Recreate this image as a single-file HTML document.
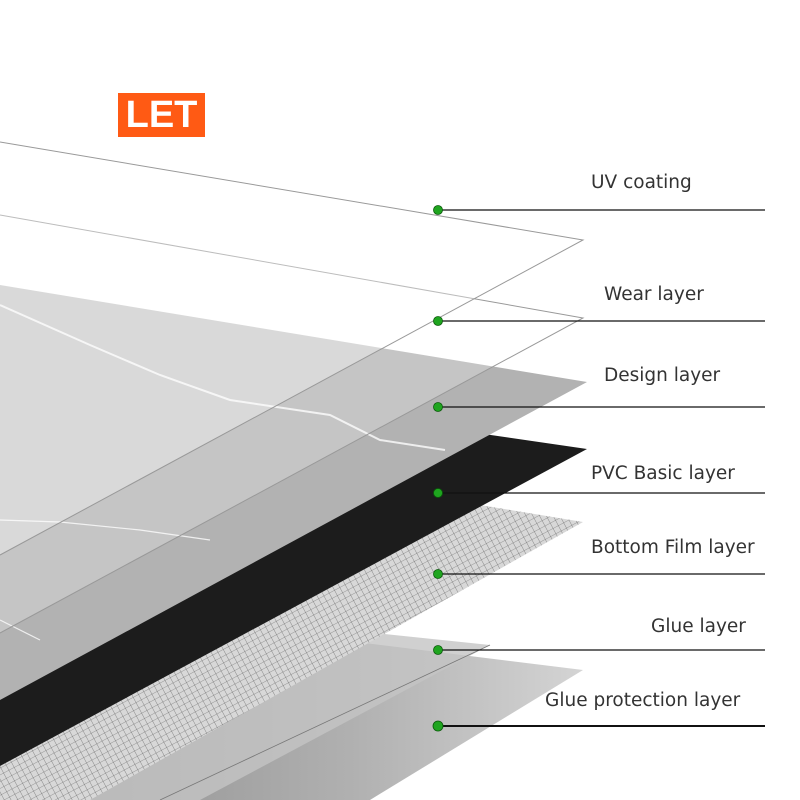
<!DOCTYPE html>
<html><head><meta charset="utf-8"><style>
html,body{margin:0;padding:0;background:#fff}
#c{position:relative;width:800px;height:800px;overflow:hidden;background:#fff}
.t{position:absolute;font-family:"DejaVu Sans","Liberation Sans",sans-serif;font-size:18.5px;color:#333;white-space:nowrap;line-height:20px}
</style></head><body><div id="c">
<svg width="800" height="800" style="position:absolute;left:0;top:0">
<defs>
<pattern id="mesh" width="6" height="6" patternUnits="userSpaceOnUse" patternTransform="rotate(-28)">
<path d="M0 0H6M0 0V6" stroke="#333" stroke-width="0.6"/>
</pattern>
<linearGradient id="gp" x1="0" y1="0" x2="1" y2="0">
<stop offset="0" stop-color="#8a8a8a"/><stop offset="0.6" stop-color="#b0b0b0"/><stop offset="1" stop-color="#d4d4d4"/>
</linearGradient>
</defs>
<polygon points="583,670 300,635 0,640 0,800 370,800" fill="url(#gp)"/>
<polygon points="490,645 250,620 0,640 0,800 200,800" fill="#c4c4c4" opacity="0.8"/>
<line x1="490" y1="645" x2="160" y2="800" stroke="#777" stroke-width="0.8"/>
<polygon points="583,522 480,505 0,640 0,800 90,800" fill="#d8d8d8"/>
<polygon points="583,522 480,505 0,640 0,800 90,800" fill="url(#mesh)" opacity="0.8"/>
<polygon points="587,449 470,432 0,560 0,766" fill="#1c1c1c"/>
<polygon points="0,285 587,382 0,700" fill="#b2b2b2"/>
<polyline points="0,305 90,345 160,375 230,400 330,415 380,440 445,450" fill="none" stroke="#eee" stroke-width="2"/>
<polyline points="0,520 60,522 140,530 210,540" fill="none" stroke="#eee" stroke-width="1.2"/>
<polyline points="0,620 40,640" fill="none" stroke="#eee" stroke-width="1.2"/>
<polygon points="0,215 583,318 0,633" fill="#fff" opacity="0.25"/>
<polyline points="0,215 583,318 0,633" fill="none" stroke="#999" stroke-width="1"/>
<polygon points="0,142 583,240 0,555" fill="#fff" opacity="0.35"/>
<polyline points="0,142 583,240 0,555" fill="none" stroke="#999" stroke-width="1"/>
<g stroke="#111" stroke-width="1.3">
<line x1="438" y1="210" x2="765" y2="210"/>
<line x1="438" y1="321" x2="765" y2="321"/>
<line x1="438" y1="407" x2="765" y2="407"/>
<line x1="438" y1="493" x2="765" y2="493"/>
<line x1="438" y1="574" x2="765" y2="574"/>
<line x1="438" y1="650" x2="765" y2="650"/>
<line x1="438" y1="726" x2="765" y2="726" stroke-width="2"/>
</g>
<g fill="#1fa51f" stroke="#0a5a0a" stroke-width="0.8">
<circle cx="438" cy="210" r="4.5"/><circle cx="438" cy="321" r="4.5"/><circle cx="438" cy="407" r="4.5"/>
<circle cx="438" cy="493" r="4.5"/><circle cx="438" cy="574" r="4.5"/><circle cx="438" cy="650" r="4.5"/>
<circle cx="438" cy="726" r="5"/>
</g>
</svg>
<div style="position:absolute;left:118px;top:93px;width:87px;height:44px;background:#ff5a14;color:#fff;font-family:'Liberation Sans',sans-serif;font-weight:bold;font-size:38px;line-height:44px;text-align:center">LET</div>
<div class="t" style="left:591px;top:173px">UV coating</div>
<div class="t" style="left:604px;top:285px">Wear layer</div>
<div class="t" style="left:604px;top:366px">Design layer</div>
<div class="t" style="left:591px;top:464px">PVC Basic layer</div>
<div class="t" style="left:591px;top:538px">Bottom Film layer</div>
<div class="t" style="left:651px;top:617px">Glue layer</div>
<div class="t" style="left:545px;top:691px">Glue protection layer</div>
</div></body></html>
